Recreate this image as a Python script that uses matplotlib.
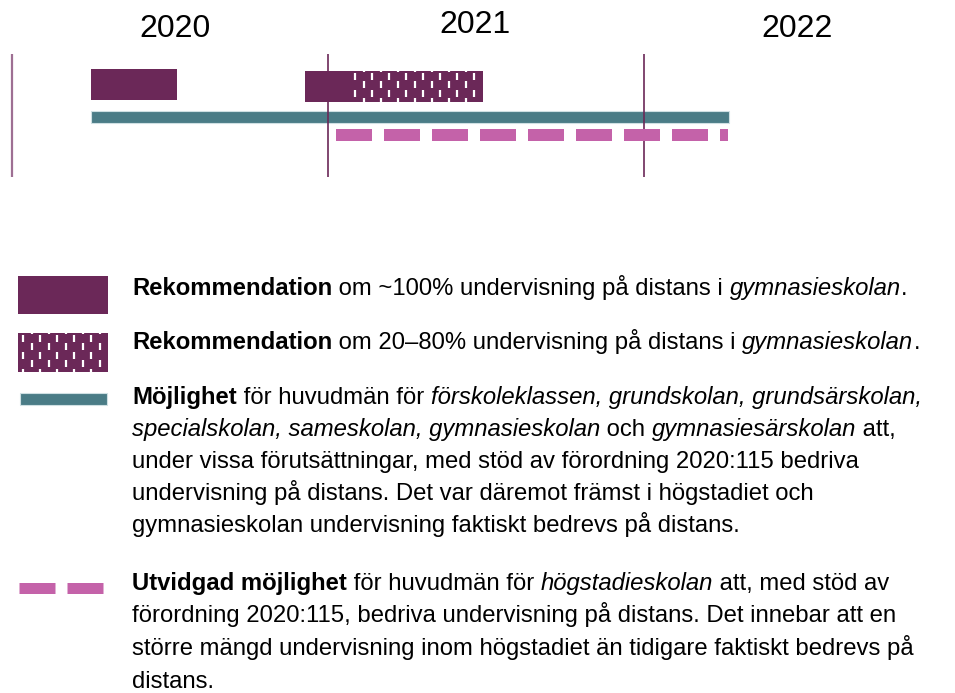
import matplotlib
matplotlib.use('Agg')
import matplotlib.pyplot as plt
import numpy as np
from matplotlib.collections import LineCollection
from matplotlib.transforms import IdentityTransform

W, H = 955, 693

# time axis: months counted from January 2020
years = ['2020', '2021', '2022']
year_starts = [0, 12, 24]
year_label_x = [6.2, 17.6, 29.8]
rec100 = [(3.0, 6.27), (11.13, 12.84)]      # ~100 % distans
rec2080 = [(12.84, 17.89)]                   # 20-80 % distans
mojlighet = (3.0, 27.23)
utvidgad = (12.30, 27.18)

PURPLE = '#6b2858'
TEAL = '#4a7c86'
PINK = '#c462a9'
FONT = 'Liberation Sans'
FS = 17.2

fig = plt.figure(figsize=(W / 100, H / 100), dpi=100)

# timeline axes, x in months
ax = fig.add_axes([0, 1 - 190 / H, 1, 190 / H])
mpx = 26.333  # px per month
ax.set_xlim(-12 / mpx, (W - 12) / mpx)
ax.set_ylim(190, 0)
ax.axis('off')

for i, m in enumerate(year_starts):
    ax.vlines(m, 54, 177, color='#9e6f93' if i == 0 else PURPLE,
              lw=1.6 if i == 0 else 1.2)
for yl, xl, base in zip(years, year_label_x, [37, 33, 37]):
    ax.text(xl, base, yl, fontsize=23, family=FONT, ha='center', va='baseline')

ax.barh(84.5, rec100[0][1] - rec100[0][0], left=rec100[0][0], height=31, color=PURPLE)
ax.barh(86.5, rec100[1][1] - rec100[1][0], left=rec100[1][0], height=31, color=PURPLE)
for a, b in rec2080:
    ax.barh(86.5, b - a, left=a, height=31, color=PURPLE)
ax.barh(116.7, mojlighet[1] - mojlighet[0], left=mojlighet[0], height=12.3,
        color=TEAL, edgecolor='#cfe0e3', lw=0.8)
ax.plot(utvidgad, [135, 135], color=PINK, lw=12 * 0.72, dashes=(3, 1),
        solid_capstyle='butt', dash_capstyle='butt')


def brick_segs(left, right, top, bottom, px=17.0, py=8.4, dash=7.0, ox=5.3, oy=5.5):
    # white dash texture, pixel coords with y downward
    segs = []
    yc = top + oy - py
    row = 1
    while yc - dash / 2 < bottom:
        shift = 0 if row % 2 == 0 else px / 2
        for x in np.arange(left + ox + shift - px, right + px, px):
            if left + 1 <= x <= right - 1:
                ya = max(yc - dash / 2, top)
                yb = min(yc + dash / 2, bottom)
                if yb > ya:
                    segs.append([(x, H - ya), (x, H - yb)])
        yc += py
        row += 1
    return segs


def add_bricks(segs):
    fig.add_artist(LineCollection(segs, colors='white', linewidths=1.6,
                                  transform=IdentityTransform(), zorder=5))


for a, b in rec2080:
    (x0, y0), (x1, y1) = ax.transData.transform([(a, 71), (b, 102)])
    add_bricks(brick_segs(x0, x1, H - y0, H - y1))

# legend area in pixel coords
lg = fig.add_axes([0, 0, 1, 1], zorder=-1)
lg.set_xlim(0, W)
lg.set_ylim(H, 0)
lg.axis('off')
lg.add_patch(plt.Rectangle((18, 276), 90, 38, color=PURPLE, lw=0))
lg.add_patch(plt.Rectangle((18, 333), 90, 39, color=PURPLE, lw=0))
add_bricks(brick_segs(18, 108, 333, 372))
lg.add_patch(plt.Rectangle((20, 393), 87, 12, facecolor=TEAL, edgecolor='#cfe0e3', lw=0.8))
lg.plot([19, 103], [588, 588], color=PINK, lw=11 * 0.72, dashes=(36 / 11, 12 / 11),
        dash_capstyle='butt', solid_capstyle='butt')

legend_lines = [
    (295, [('Rekommendation', 'b'), (' om ~100% undervisning på distans i ', 'n'),
           ('gymnasieskolan', 'i'), ('.', 'n')]),
    (349, [('Rekommendation', 'b'), (' om 20–80% undervisning på distans i ', 'n'),
           ('gymnasieskolan', 'i'), ('.', 'n')]),
    (404, [('Möjlighet', 'b'), (' för huvudmän för ', 'n'),
           ('förskoleklassen, grundskolan, grundsärskolan,', 'i')]),
    (436, [('specialskolan, sameskolan, gymnasieskolan', 'i'), (' och ', 'n'),
           ('gymnasiesärskolan', 'i'), (' att,', 'n')]),
    (468, [('under vissa förutsättningar, med stöd av förordning 2020:115 bedriva', 'n')]),
    (500, [('undervisning på distans. Det var däremot främst i högstadiet och', 'n')]),
    (532, [('gymnasieskolan undervisning faktiskt bedrevs på distans.', 'n')]),
    (590, [('Utvidgad möjlighet', 'b'), (' för huvudmän för ', 'n'),
           ('högstadieskolan', 'i'), (' att, med stöd av', 'n')]),
    (622, [('förordning 2020:115, bedriva undervisning på distans. Det innebar att en', 'n')]),
    (655, [('större mängd undervisning inom högstadiet än tidigare faktiskt bedrevs på', 'n')]),
    (688, [('distans.', 'n')]),
]

renderer = fig.canvas.get_renderer()


def advance(s, kw):
    # width of s + 'x' minus width of 'x' -> advance without bbox overhang
    t1 = fig.text(0, 0, s + 'x', **kw)
    t2 = fig.text(0, 0, 'x', **kw)
    w = t1.get_window_extent(renderer).width - t2.get_window_extent(renderer).width
    t1.remove()
    t2.remove()
    return w


for base, runs in legend_lines:
    x = 132
    for s, st in runs:
        kw = dict(fontsize=FS, family=FONT,
                  weight='bold' if st == 'b' else 'normal',
                  style='italic' if st == 'i' else 'normal')
        fig.text(x / W, 1 - base / H, s, va='baseline', **kw)
        x += advance(s, kw)

fig.savefig('out.png', dpi=100)
